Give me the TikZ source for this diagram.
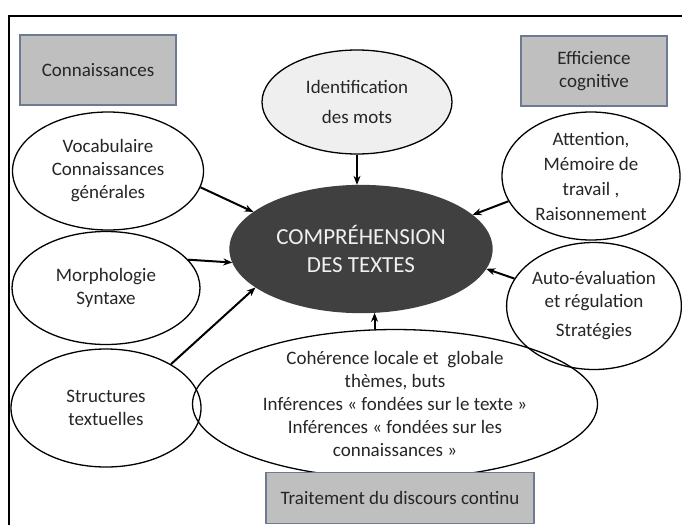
\documentclass[tikz,border=0pt]{standalone}
\usepackage{fontspec}
\setmainfont{Carlito}
\usetikzlibrary{shapes.geometric,arrows.meta}

\definecolor{boxgray}{HTML}{BFBFBF}
\definecolor{boxline}{HTML}{6C7A94}
\definecolor{lightfill}{HTML}{EFEFEF}
\definecolor{darkfill}{HTML}{404040}
\definecolor{txt}{HTML}{262626}

\begin{document}
\begin{tikzpicture}[x=1pt,y=-1pt,
    every node/.style={font=\fontsize{19}{23}\selectfont,text=txt,align=center,inner sep=0pt},
    bubble/.style={ellipse,draw=black,line width=1.3pt},
    titlebox/.style={rectangle,draw=boxline,line width=1.3pt,fill=boxgray},
    feed/.style={-{Stealth[length=9pt,width=7pt]},line width=2pt}]
      \useasboundingbox (0,0) rectangle (682,525);
      \fill [white] (0,0) rectangle (682,525);
      \draw [line width=2.5pt] (9,525) -- (9,16) -- (682,16);

      % headings
      \node [titlebox,minimum width=156pt,minimum height=70pt] (conn) at (98,70) {Connaissances};
      \node [titlebox,minimum width=146pt,minimum height=70pt] (effi) at (594,71) {Efficience\\cognitive};

      % bubbles
      \node [bubble,fill=lightfill,minimum width=190pt,minimum height=104pt] (ident) at (357,102) {Identification\\[7pt]des mots};
      \node [bubble,minimum width=191pt,minimum height=118pt] (voc) at (108,171) {Vocabulaire\\Connaissances\\générales};
      \node [bubble,minimum width=178pt,minimum height=128pt] (atten) at (591,176) {Attention,\\[2pt]Mémoire de\\[2pt]travail ,\\[2pt]Raisonnement};
      \node [bubble,minimum width=188pt,minimum height=113pt] (morph) at (106,288) {Morphologie\\Syntaxe};
      \node [bubble,minimum width=170pt,minimum height=127pt] (auto) at (594,306) {Auto-évaluation\\et régulation\\[6pt]Stratégies};
      \node [bubble,minimum width=190pt,minimum height=118pt] (struct) at (106,408) {Structures\\textuelles};
      \node [bubble,minimum width=405pt,minimum height=138pt] (coh) at (395,404)
        {Cohérence locale et~ globale\\thèmes, buts\\Inférences « fondées sur le texte »\\Inférences « fondées sur les\\connaissances »};
      \node [bubble,fill=darkfill,draw=darkfill,minimum width=262pt,minimum height=127pt,
        text=white!94!black,font=\fontsize{23}{28}\selectfont] (comp) at (361,249) {COMPRÉHENSION\\DES TEXTES};

      \node [titlebox,minimum width=268pt,minimum height=51pt] (trait) at (400,498) {Traitement du discours continu};

      % arrows
      \draw [feed] (ident.south) -- (ident.south |- comp.north);
      \draw [feed] (voc.-10) -- (comp.161);
      \draw [feed] (morph.19) -- (comp.186);
      \draw [feed] (struct.34) -- (comp.200);
      \draw [feed] (atten.197) -- (comp.17);
      \draw [feed] (auto.161) -- (comp.-9);
      \draw [feed] (coh.north -| comp.-78) -- (comp.-78);
\end{tikzpicture}
\end{document}
